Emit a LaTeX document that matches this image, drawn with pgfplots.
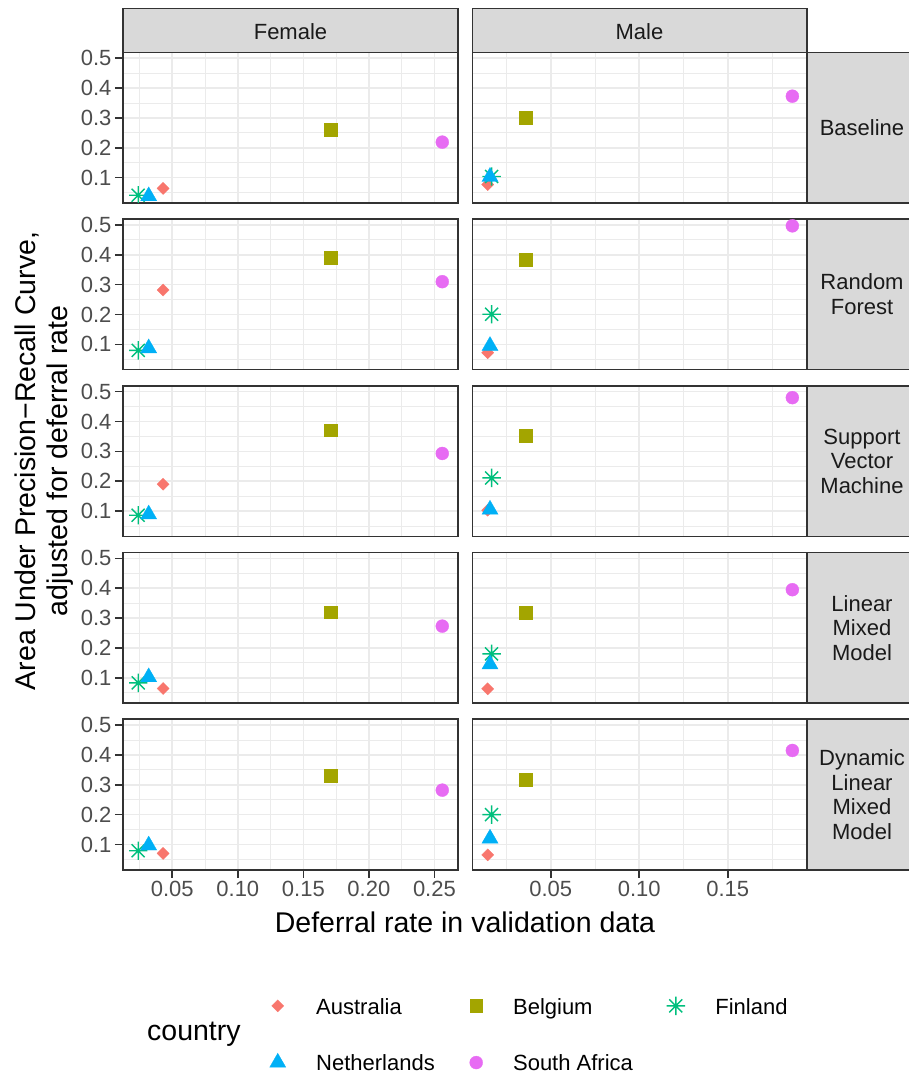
\documentclass[border=0pt]{standalone}
\usepackage{fontspec}
\setmainfont{Liberation Sans}
\usepackage{pgfplots}
\pgfplotsset{compat=1.18}
\usetikzlibrary{plotmarks}

\definecolor{au}{HTML}{F8766D}
\definecolor{be}{HTML}{A3A500}
\definecolor{fi}{HTML}{00BF7D}
\definecolor{nl}{HTML}{00B0F6}
\definecolor{sa}{HTML}{E76BF3}
\definecolor{grey92}{HTML}{EBEBEB}
\definecolor{grey20}{HTML}{333333}
\definecolor{grey30}{HTML}{4D4D4D}
\definecolor{grey85}{HTML}{D9D9D9}
\definecolor{grey10}{HTML}{1A1A1A}

\pgfdeclareplotmark{ggstar}{%
  \pgfpathmoveto{\pgfqpoint{-\pgfplotmarksize}{0pt}}%
  \pgfpathlineto{\pgfqpoint{\pgfplotmarksize}{0pt}}%
  \pgfpathmoveto{\pgfqpoint{0pt}{-\pgfplotmarksize}}%
  \pgfpathlineto{\pgfqpoint{0pt}{\pgfplotmarksize}}%
  \pgfpathmoveto{\pgfqpoint{-0.7071\pgfplotmarksize}{-0.7071\pgfplotmarksize}}%
  \pgfpathlineto{\pgfqpoint{0.7071\pgfplotmarksize}{0.7071\pgfplotmarksize}}%
  \pgfpathmoveto{\pgfqpoint{-0.7071\pgfplotmarksize}{0.7071\pgfplotmarksize}}%
  \pgfpathlineto{\pgfqpoint{0.7071\pgfplotmarksize}{-0.7071\pgfplotmarksize}}%
  \pgfusepathqstroke}

\pgfplotsset{
  AU/.style={only marks, color=au, fill=au, line width=0.3pt, mark=square*, mark size=4.3pt, mark options={rotate=45}},
  BE/.style={only marks, color=be, fill=be, line width=0.3pt, mark=square*, mark size=6.4pt},
  FI/.style={only marks, color=fi, line width=1.4pt, mark=ggstar, mark size=9.2pt},
  NL/.style={only marks, color=nl, fill=nl, line width=0.3pt, mark=triangle*, mark size=9.3pt},
  SA/.style={only marks, color=sa, fill=sa, line width=0.3pt, mark=*, mark size=6.5pt},
  panel/.style={
    scale only axis, height=150.6pt,
    ymin=0.0154, ymax=0.52,
    ytick={0.1,0.2,0.3,0.4,0.5}, minor ytick={0.05,0.15,0.25,0.35,0.45},
    yticklabels={0.1,0.2,0.3,0.4,0.5},
    grid=both,
    major grid style={draw=grey92, line width=1.6pt},
    minor grid style={draw=grey92, line width=0.8pt},
    axis line style={draw=grey20, line width=1.6pt},
    tick align=outside, major tick length=8pt, minor tick length=0pt,
    major tick style={draw=grey20, line width=1.6pt},
    xtick pos=left, ytick pos=left,
    ticklabel style={font=\fontsize{22}{24}\selectfont, text=grey30},
    clip marker paths=true,
    anchor=north west,
  },
  female/.style={width=335pt, xmin=0.0124, xmax=0.268,
    xtick={0.05,0.10,0.15,0.20,0.25}, minor xtick={0.025,0.075,0.125,0.175,0.225},
    xticklabels={0.05,0.10,0.15,0.20,0.25}},
  male/.style={width=334.4pt, xmin=0.0057, xmax=0.1946,
    xtick={0.05,0.10,0.15}, minor xtick={0.025,0.075,0.125,0.175},
    xticklabels={0.05,0.10,0.15}, yticklabels={}, ytick style={draw=none}},
  notbottom/.style={xticklabels={}, xtick style={draw=none}},
}

% Female: x = Australia 0.043, Belgium 0.171, Finland 0.024, Netherlands 0.032, South Africa 0.256
\newcommand{\fpts}[5]{%
  \addplot[AU] coordinates {(0.043,#1)};
  \addplot[BE] coordinates {(0.171,#2)};
  \addplot[FI] coordinates {(0.024,#3)};
  \addplot[NL] coordinates {(0.032,#4)};
  \addplot[SA] coordinates {(0.256,#5)};}
% Male: x = Australia 0.0144, Belgium 0.036, Finland 0.0166, Netherlands 0.0157, South Africa 0.1865
\newcommand{\mpts}[5]{%
  \addplot[AU] coordinates {(0.0144,#1)};
  \addplot[BE] coordinates {(0.036,#2)};
  \addplot[FI] coordinates {(0.0166,#3)};
  \addplot[NL] coordinates {(0.0157,#4)};
  \addplot[SA] coordinates {(0.1865,#5)};}

\begin{document}
\begin{tikzpicture}[x=1pt,y=-1pt]
\useasboundingbox (0,0) rectangle (909,1074);

% Row 1: Baseline
\begin{axis}[panel, female, notbottom, at={(123pt,-52.3pt)}]
\fpts{0.064}{0.26}{0.041}{0.038}{0.219}
\end{axis}
\begin{axis}[panel, male, notbottom, at={(472.3pt,-52.3pt)}]
\mpts{0.077}{0.30}{0.104}{0.103}{0.373}
\end{axis}
% Row 2: Random Forest
\begin{axis}[panel, female, notbottom, at={(123pt,-219.0pt)}]
\fpts{0.282}{0.39}{0.080}{0.087}{0.31}
\end{axis}
\begin{axis}[panel, male, notbottom, at={(472.3pt,-219.0pt)}]
\mpts{0.072}{0.385}{0.201}{0.095}{0.497}
\end{axis}
% Row 3: SVM
\begin{axis}[panel, female, notbottom, at={(123pt,-385.7pt)}]
\fpts{0.19}{0.371}{0.086}{0.089}{0.293}
\end{axis}
\begin{axis}[panel, male, notbottom, at={(472.3pt,-385.7pt)}]
\mpts{0.103}{0.353}{0.211}{0.105}{0.48}
\end{axis}
% Row 4: LMM
\begin{axis}[panel, female, notbottom, at={(123pt,-552.4pt)}]
\fpts{0.064}{0.32}{0.083}{0.102}{0.273}
\end{axis}
\begin{axis}[panel, male, notbottom, at={(472.3pt,-552.4pt)}]
\mpts{0.063}{0.317}{0.18}{0.145}{0.395}
\end{axis}
% Row 5: DLMM
\begin{axis}[panel, female, at={(123pt,-719.1pt)},
  legend columns=3, legend cell align=left,
  legend style={at={(0.4373,-0.824)}, anchor=north west, draw=none, fill=none,
    inner sep=0pt, font=\fontsize{22}{26}\selectfont, row sep=33pt,
    /tikz/every odd column/.append style={column sep=28.4pt},
    /tikz/every even column/.append style={column sep=21.5pt}}]
\fpts{0.07}{0.33}{0.079}{0.097}{0.282}
\legend{\makebox[130pt][l]{Australia\strut},\makebox[130pt][l]{Belgium\strut},Finland\strut,\makebox[130pt][l]{Netherlands\strut},\makebox[130pt][l]{South Africa\strut}}
\end{axis}
\begin{axis}[panel, male, at={(472.3pt,-719.1pt)}]
\mpts{0.065}{0.318}{0.2}{0.12}{0.415}
\end{axis}

% Top strips
\draw[fill=grey85, draw=grey20, line width=1.6pt] (123,8.3) rectangle (458,52.3);
\draw[fill=grey85, draw=grey20, line width=1.6pt] (472.3,8.3) rectangle (806.7,52.3);
\node[anchor=base, font=\fontsize{22}{24}\selectfont, text=grey10] at (290.5,39.3) {Female};
\node[anchor=base, font=\fontsize{22}{24}\selectfont, text=grey10] at (639.5,39.3) {Male};

% Right strips
\foreach \t/\lab in {52.3/{Baseline}, 219.0/{Random\\Forest}, 385.7/{Support\\Vector\\Machine}, 552.4/{Linear\\Mixed\\Model}, 719.1/{Dynamic\\Linear\\Mixed\\Model}}{
  \draw[fill=grey85, draw=grey20, line width=1.6pt] (806.7,\t) rectangle (920,\t+150.6);
  \node[align=center, font=\fontsize{22}{24.5}\selectfont, text=grey10] at (862,\t+75.3) {\lab};
}

% Axis titles
\node[rotate=90, align=center, font=\fontsize{28.5}{32}\selectfont] at (44,461) {Area Under Precision−Recall Curve,\\adjusted for deferral rate};
\node[anchor=base, font=\fontsize{28.5}{32}\selectfont] at (465,932.7) {Deferral rate in validation data};
\node[anchor=base west, font=\fontsize{28.5}{32}\selectfont, inner sep=0pt] at (147,1040.5) {country};
\end{tikzpicture}
\end{document}
